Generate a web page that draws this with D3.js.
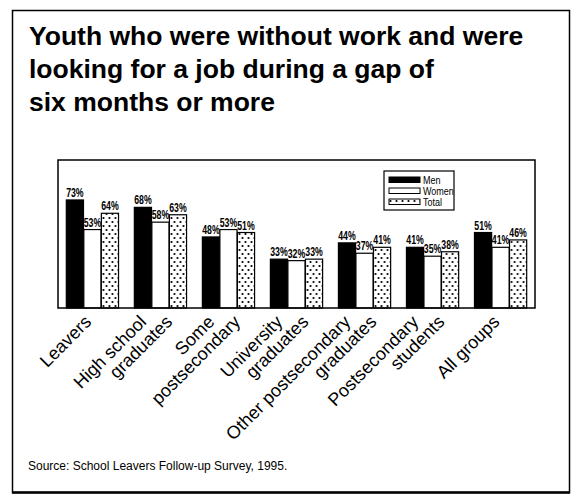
<!DOCTYPE html>
<html>
<head>
<meta charset="utf-8">
<script src="https://cdn.jsdelivr.net/npm/d3@7"></script>
<style>
  html, body { margin: 0; padding: 0; background: #fff; }
  svg { display: block; }
  text { font-family: "Liberation Sans", Arial, Helvetica, sans-serif; fill: #000; }
</style>
</head>
<body>
<svg id="chart" width="576" height="502"></svg>
<script>
// Chart data
const categories = [
  ["Leavers"],
  ["High school", "graduates"],
  ["Some", "postsecondary"],
  ["University", "graduates"],
  ["Other postsecondary", "graduates"],
  ["Postsecondary", "students"],
  ["All groups"]
];
const seriesNames = ["Men", "Women", "Total"];
const men   = [73, 68, 48, 33, 44, 41, 51];
const women = [53, 58, 53, 32, 37, 35, 41];
const total = [64, 63, 51, 33, 41, 38, 46];
const titleLines = [
  "Youth who were without work and were",
  "looking for a job during a gap of",
  "six months or more"
];
const sourceText = "Source:  School Leavers Follow-up Survey, 1995.";

const svg = d3.select("#chart");

// dotted fill used for the "Total" series
const defs = svg.append("defs");
const pat = defs.append("pattern")
  .attr("id", "dots").attr("patternUnits", "userSpaceOnUse")
  .attr("width", 6).attr("height", 8);
pat.append("rect").attr("width", 6).attr("height", 8).attr("fill", "#fff");
pat.append("circle").attr("cx", 1.5).attr("cy", 2).attr("r", 1.1).attr("fill", "#000");
pat.append("circle").attr("cx", 4.5).attr("cy", 6).attr("r", 1.1).attr("fill", "#000");

// outer panel
svg.append("rect").attr("x", 12.5).attr("y", 10.5).attr("width", 557).attr("height", 482)
  .attr("fill", "none").attr("stroke", "#000").attr("stroke-width", 1.5);
svg.append("line").attr("x1", 12).attr("x2", 570).attr("y1", 492.5).attr("y2", 492.5)
  .attr("stroke", "#000").attr("stroke-width", 2.5);

// title
svg.append("g").selectAll("text").data(titleLines).join("text")
  .attr("x", 29).attr("y", (d, i) => 45 + i * 33)
  .style("font-size", "26.5px").style("font-weight", "bold")
  .text(d => d);

// plot area
const plot = { left: 58, right: 535, top: 160, bottom: 308 };
const x0 = d3.scaleBand().domain(d3.range(categories.length))
  .range([plot.left, plot.right]).paddingInner(0.222).paddingOuter(0.117);
const x1 = d3.scaleBand().domain(seriesNames).range([0, x0.bandwidth()]).padding(0.02);
const y = d3.scaleLinear().domain([0, 100]).range([plot.bottom, plot.top]);

const rows = categories.map((c, i) => ({
  i, values: [
    { key: "Men", v: men[i] },
    { key: "Women", v: women[i] },
    { key: "Total", v: total[i] }
  ]
}));
const fillOf = { Men: "#000", Women: "#fff", Total: "url(#dots)" };

const groups = svg.append("g").selectAll("g").data(rows).join("g")
  .attr("transform", d => `translate(${x0(d.i)},0)`);

groups.selectAll("rect").data(d => d.values).join("rect")
  .attr("x", d => x1(d.key)).attr("width", x1.bandwidth())
  .attr("y", d => y(d.v)).attr("height", d => y(0) - y(d.v))
  .attr("fill", d => fillOf[d.key]).attr("stroke", "#000").attr("stroke-width", 1.2);

// value labels in a condensed face
groups.selectAll("text").data(d => d.values).join("text")
  .attr("transform", d => `translate(${x1(d.key) + x1.bandwidth() / 2},${y(d.v) - 3}) scale(0.7,1)`)
  .attr("text-anchor", "middle")
  .style("font-size", "12.5px").style("font-weight", "bold")
  .text(d => d.v + "%");

// frame
svg.append("rect").attr("x", plot.left).attr("y", plot.top)
  .attr("width", plot.right - plot.left).attr("height", plot.bottom - plot.top)
  .attr("fill", "none").attr("stroke", "#000").attr("stroke-width", 1.5);

// category labels, rotated
const lab = svg.append("g").selectAll("g").data(categories).join("g")
  .attr("transform", (d, i) => {
    const c = x0(i) + x0.bandwidth() / 2;
    const shift = d.length > 1 ? -13 : 0;
    return `translate(${c + shift},${plot.bottom + 15}) rotate(-45)`;
  });
lab.selectAll("text").data(d => d).join("text")
  .attr("x", (d, j) => j * 18.4).attr("y", (d, j) => j * 18.4)
  .attr("text-anchor", "end")
  .style("font-size", "18px")
  .text(d => d);

// legend
const lg = svg.append("g").attr("transform", "translate(384,171)");
lg.append("rect").attr("width", 70).attr("height", 39)
  .attr("fill", "#fff").attr("stroke", "#000").attr("stroke-width", 1.2);
const li = lg.selectAll("g").data(seriesNames).join("g")
  .attr("transform", (d, i) => `translate(5,${6 + i * 11})`);
li.append("rect").attr("width", 31).attr("height", 5.5)
  .attr("fill", d => fillOf[d]).attr("stroke", "#000").attr("stroke-width", 1);
li.append("text").attr("transform", "translate(34,7) scale(0.82,1)")
  .style("font-size", "11px").text(d => d);

// source
svg.append("text").attr("x", 28).attr("y", 470).style("font-size", "12px").text(sourceText);
</script>
</body>
</html>
